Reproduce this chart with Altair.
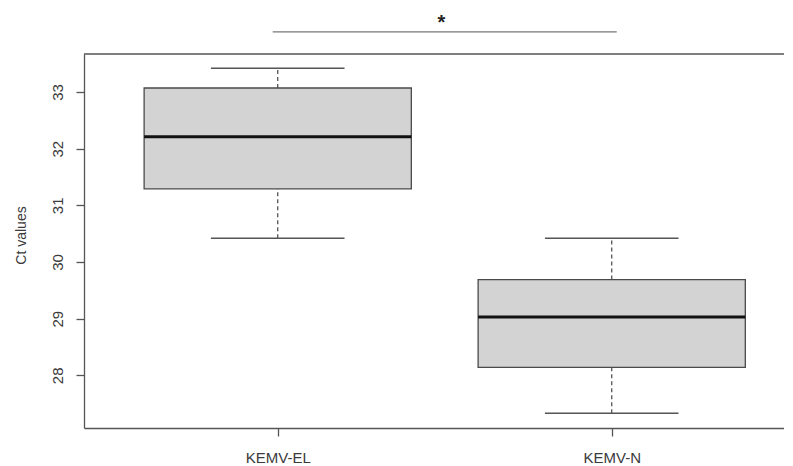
import altair as alt
import pandas as pd

# ---- data ----
categories = ["KEMV-EL", "KEMV-N"]
lower_whisker = [30.42, 27.33]
q1 = [31.29, 28.14]
median = [32.21, 29.03]
q3 = [33.07, 29.69]
upper_whisker = [33.42, 30.42]

y_ticks = [28, 29, 30, 31, 32, 33]
y_title = "Ct values"

sig_from = [0.985]
sig_to = [2.015]
sig_level = [34.06]
sig_text_x = [1.49]
sig_text_y = [34.12]
sig_label = ["*"]

# ---- layout ----
W, H = 700, 374
X_DOMAIN = [0.42, 0.42 + 700 / 334]
Y_DOMAIN = [27.07, 33.67]
FRAME = "#555555"
TEXT = "#3a3a3a"
FONT = "Liberation Sans"

df = pd.DataFrame({
    "cat": categories,
    "pos": [i + 1 for i in range(len(categories))],
    "lo": lower_whisker,
    "q1": q1,
    "med": median,
    "q3": q3,
    "hi": upper_whisker,
})

sig_df = pd.DataFrame({"x": sig_from, "x2": sig_to, "y": sig_level,
                       "tx": sig_text_x, "ty": sig_text_y, "label": sig_label})

label_expr = " : ".join(
    [f"datum.value == {i + 1} ? '{c}'" for i, c in enumerate(categories)]
) + " : ''"

xscale = alt.Scale(domain=X_DOMAIN, nice=False, zero=False)
yscale = alt.Scale(domain=Y_DOMAIN, nice=False, zero=False)

x_axis = alt.Axis(values=[i + 1 for i in range(len(categories))], labelExpr=label_expr,
                  title=None, grid=False, tickSize=8, labelPadding=21,
                  labelBaseline="middle", labelFontSize=15, labelColor=TEXT,
                  labelFont=FONT, domainColor=FRAME, tickColor=FRAME,
                  domainWidth=1.3, tickWidth=1.3)
y_axis = alt.Axis(values=y_ticks, format="d", title=y_title, grid=False, tickSize=8,
                  labelAngle=-90, labelAlign="center", labelBaseline="middle",
                  labelPadding=19, labelFontSize=15, labelColor=TEXT, labelFont=FONT,
                  titleFontSize=14, titleFont=FONT, titleColor=TEXT,
                  titleFontWeight="normal", titleAngle=-90, titleAlign="center",
                  titleBaseline="middle", titleX=-63, titleY=181,
                  domainColor=FRAME, tickColor=FRAME, domainWidth=1.3, tickWidth=1.3)

base = alt.Chart(df).transform_calculate(
    bl="datum.pos - 0.4", br="datum.pos + 0.4",
    wl="datum.pos - 0.2", wr="datum.pos + 0.2",
)

whisk_lo = base.mark_rule(color="#555555", strokeWidth=1.3, strokeDash=[4, 3]).encode(
    x=alt.X("pos:Q", scale=xscale, axis=x_axis),
    y=alt.Y("lo:Q", scale=yscale, axis=y_axis),
    y2="q1:Q",
)
whisk_hi = base.mark_rule(color="#555555", strokeWidth=1.3, strokeDash=[4, 3]).encode(
    x="pos:Q", y="q3:Q", y2="hi:Q",
)
cap_lo = base.mark_rule(color="#555555", strokeWidth=1.5).encode(
    x="wl:Q", x2="wr:Q", y="lo:Q",
)
cap_hi = base.mark_rule(color="#555555", strokeWidth=1.5).encode(
    x="wl:Q", x2="wr:Q", y="hi:Q",
)
box = base.mark_rect(fill="#d3d3d3", stroke="#4a4a4a", strokeWidth=1.3).encode(
    x="bl:Q", x2="br:Q", y="q1:Q", y2="q3:Q",
)
med = base.mark_rule(color="#111111", strokeWidth=3).encode(
    x="bl:Q", x2="br:Q", y="med:Q",
)

sig = alt.Chart(sig_df)
sig_line = sig.mark_rule(color="#777777", strokeWidth=1.2).encode(
    x="x:Q", x2="x2:Q", y="y:Q",
)
sig_star = sig.mark_text(fontSize=20, fontWeight="bold", font=FONT, color="#222222",
                         baseline="alphabetic", align="center").encode(
    x="tx:Q", y="ty:Q", text="label:N",
)

top_frame = alt.Chart(alt.Data(values=[{}])).mark_rule(color=FRAME, strokeWidth=1.3).encode(
    x=alt.value(0), x2=alt.value(W), y=alt.value(0),
)

chart = alt.layer(
    top_frame, whisk_lo, whisk_hi, cap_lo, cap_hi, box, med, sig_line, sig_star
).properties(
    width=W, height=H,
    autosize=alt.AutoSizeParams(type="none"),
    padding={"left": 76, "top": 46, "right": 0, "bottom": 36},
    background="white",
).configure_view(stroke=None)

chart.save("out.html", embed_options={"renderer": "svg", "actions": False})
